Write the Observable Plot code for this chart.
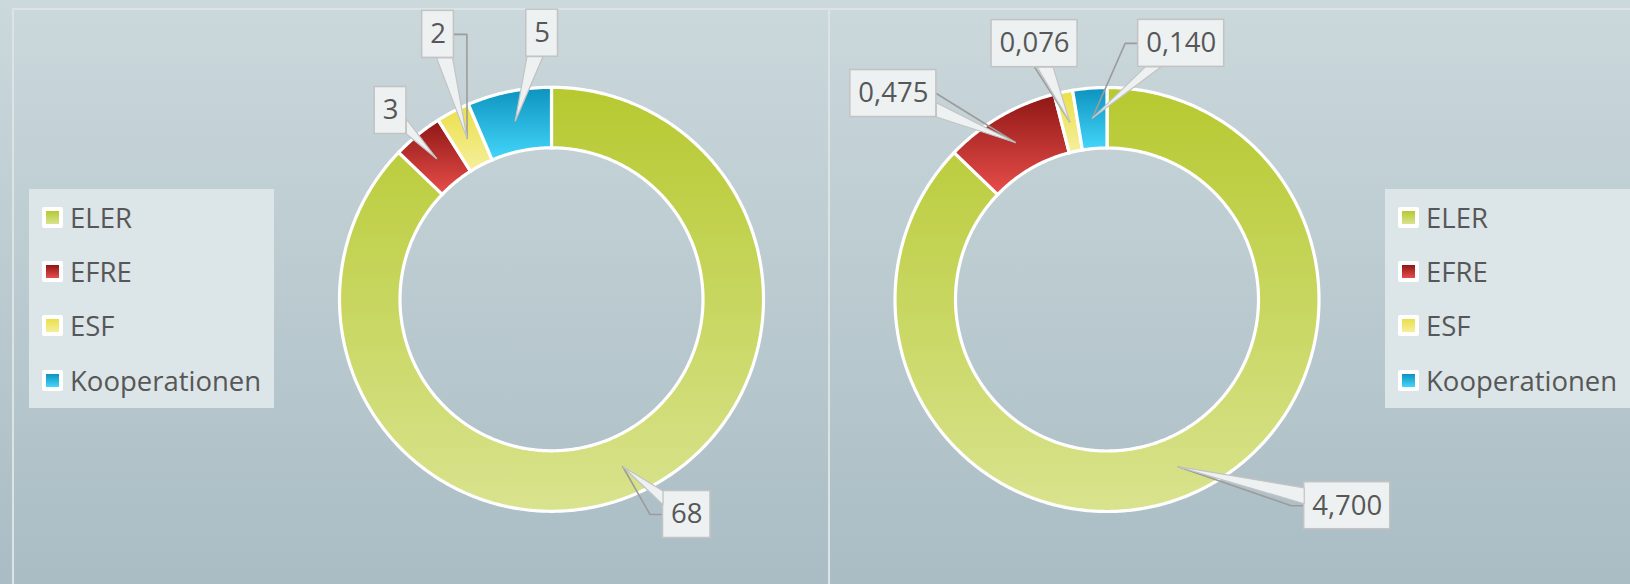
<!DOCTYPE html>
<html>
<head>
<meta charset="utf-8">
<script src="https://cdn.jsdelivr.net/npm/d3@7"></script>
<script src="https://cdn.jsdelivr.net/npm/@observablehq/plot@0.6"></script>
<style>
  html, body { margin: 0; padding: 0; }
  #wrap { position: relative; width: 1630px; height: 584px; overflow: hidden;
          background: linear-gradient(#cbd8dc, #aabdc4); font-family: "Open Sans", sans-serif; }
  .panel { position: absolute; border-left: 2px solid #dde2e4; border-top: 2px solid #dde2e4; box-sizing: border-box; }
  #chart { position: absolute; left: 0; top: 0; }
  .legend { position: absolute; background: #dce5e8; box-sizing: border-box; padding-top: 1px; }
  .item { height: 54.3px; display: flex; align-items: center; color: #575757; font-size: 27.5px; white-space: nowrap; }
  .sw { width: 13px; height: 13px; border: 4px solid #fff; border-radius: 2px; margin-left: 13px; margin-right: 7px; flex: none; }
</style>
</head>
<body>
<div id="wrap">
  <div class="panel" style="left:12px; top:8px; width:818px; height:600px;"></div>
  <div class="panel" style="left:828px; top:8px; width:820px; height:600px;"></div>
</div>
<script>
// ---------------- data ----------------
const categories = ["ELER", "EFRE", "ESF", "Kooperationen"];
const leftValues = [68, 3, 2, 5];
const rightValues = [4.700, 0.475, 0.076, 0.140];
const colorTop = ["#b6c930", "#8e1715", "#ebdf48", "#0c93bf"];
const colorBottom = ["#d9e38e", "#e84e4a", "#f5ef9e", "#44d6fa"];

// ---------------- layout ----------------
const W = 1630, H = 584;
const k = 212;                 // px per unit radius
const outerR = 1, innerR = 151.5 / 212;
const centerPx = [[551, 298.8], [1106.5, 299]];
const legendPos = [{left: 29, top: 189, width: 245, height: 219}, {left: 1385, top: 189, width: 260, height: 219}];
const fontSize = 27.5;
// callout box offsets (px, relative to anchor in slice) and leader style
const calloutLeft = [
  {off: [64, 48], leader: "elbow"},
  {off: [-46, -48], leader: "corner"},
  {off: [-29, -104], leader: "elbow"},
  {off: [27, -88], leader: "bottom"}
];
const calloutRight = [
  {off: [169, 39], leader: "elbow"},
  {off: [-122, -49], leader: "side"},
  {off: [-35, -78], leader: "bottom"},
  {off: [89, -75], leader: "elbow"}
];

const de = d3.formatLocale({decimal: ",", thousands: ".", grouping: [3], currency: ["", " €"]});
const formats = [de.format("d"), de.format(".3f")];
const charts = [leftValues, rightValues];
const callouts = [calloutLeft, calloutRight];

// scale domains (data units: radius 1 == k px)
const x0 = -centerPx[0][0] / k, x1 = (W - centerPx[0][0]) / k;
const yTop = centerPx[0][1] / k, yBot = -(H - centerPx[0][1]) / k;
const centers = centerPx.map(([px, py]) => [(px - centerPx[0][0]) / k, (centerPx[0][1] - py) / k]);

// text measure
const ctx = document.createElement("canvas").getContext("2d");
ctx.font = fontSize + "px 'Open Sans'";
const measure = (s) => ctx.measureText(s).width;

const slices = [];
const labels = [];
const leaders = [];
const tails = [];
charts.forEach((vals, c) => {
  const total = d3.sum(vals);
  const [cx, cy] = centers[c];
  let a0 = 0;
  vals.forEach((v, i) => {
    const a1 = a0 + v / total * 2 * Math.PI;
    const n = Math.max(2, Math.ceil((a1 - a0) / (Math.PI / 360)));
    const pts = [];
    for (let j = 0; j <= n; j++) { const a = a0 + (a1 - a0) * j / n; pts.push([cx + outerR * Math.sin(a), cy + outerR * Math.cos(a)]); }
    for (let j = n; j >= 0; j--) { const a = a0 + (a1 - a0) * j / n; pts.push([cx + innerR * Math.sin(a), cy + innerR * Math.cos(a)]); }
    pts.push(pts[0]);
    pts.forEach(([x, y]) => slices.push({chart: c, cat: i, x, y}));

    // callout
    const am = (a0 + a1) / 2, rm = (outerR + innerR) / 2;
    const ax = cx + rm * Math.sin(am), ay = cy + rm * Math.cos(am);
    const text = formats[c](v);
    const co = callouts[c][i];
    const bx = ax + co.off[0] / k, by = ay - co.off[1] / k;
    const hw = (measure(text) + 16) / 2 / k, hh = 23.5 / k;
    const key = c + "-" + i;
    labels.push({key, text, x: bx, y: by, x1: bx - hw, x2: bx + hw, y1: by - hh, y2: by + hh});
    // leader line
    const sideX = ax < bx ? bx - hw : bx + hw;
    const dir = ax < bx ? -1 : 1;
    let lp;
    if (co.leader === "elbow") lp = [[ax, ay], [sideX + dir * 13 / k, by], [sideX, by]];
    else if (co.leader === "bottom") lp = [[ax, ay], [bx, by - hh]];
    else if (co.leader === "corner") lp = [[ax, ay], [sideX, by - hh + 8 / k]];
    else lp = [[ax, ay], [sideX, by]];
    lp.forEach(([x, y]) => leaders.push({key, x, y}));
    // tail triangle
    const dx = ax - bx, dy = ay - by;
    const tx = Math.abs(dx) > 1e-9 ? hw / Math.abs(dx) : Infinity;
    const ty = Math.abs(dy) > 1e-9 ? hh / Math.abs(dy) : Infinity;
    const t = Math.min(tx, ty);
    const px = bx + t * dx, py = by + t * dy;
    const bw = 8 / k;
    let b1, b2;
    if (tx < ty) {
      const yy1 = Math.min(by + hh, py + bw), yy2 = Math.max(by - hh, py - bw);
      b1 = [px, yy1]; b2 = [px, yy2];
    } else {
      const xx1 = Math.max(bx - hw, px - bw), xx2 = Math.min(bx + hw, px + bw);
      b1 = [xx1, py]; b2 = [xx2, py];
    }
    [b1, [ax, ay], b2, b1].forEach(([x, y]) => tails.push({key, x, y}));
    a0 = a1;
  });
});

const defs = () => {
  const d = d3.create("svg:defs");
  categories.forEach((cat, i) => {
    const g = d.append("linearGradient").attr("id", "grad" + i).attr("x1", 0).attr("y1", 0).attr("x2", 0).attr("y2", 1);
    g.append("stop").attr("offset", "0%").attr("stop-color", colorTop[i]);
    g.append("stop").attr("offset", "100%").attr("stop-color", colorBottom[i]);
  });
  return d.node();
};

const chart = Plot.plot({
  width: W, height: H, margin: 0,
  x: {domain: [x0, x1], axis: null},
  y: {domain: [yBot, yTop], axis: null},
  style: {background: "transparent", overflow: "visible"},
  marks: [
    defs,
    ...categories.map((cat, i) => Plot.line(slices.filter(d => d.cat === i), {
      x: "x", y: "y", z: "chart", fill: `url(#grad${i})`, stroke: "white", strokeWidth: 3.2, strokeLinejoin: "miter", strokeMiterlimit: 4
    })),
    Plot.line(leaders, {x: "x", y: "y", z: "key", stroke: "#9c9c9c", strokeWidth: 1.6, strokeLinejoin: "miter"}),
    Plot.rect(labels, {x1: "x1", x2: "x2", y1: "y1", y2: "y2", fill: "#edf1f2", stroke: "#c3c3c3", strokeWidth: 1.5}),
    Plot.line(tails, {x: "x", y: "y", z: "key", fill: "#edf1f2", stroke: "#c3c3c3", strokeWidth: 1.2, strokeLinejoin: "miter"}),
    Plot.text(labels, {x: "x", y: "y", text: "text", fontSize: fontSize, fontFamily: "Open Sans", fill: "#575757"})
  ]
});
chart.id = "chart";
const wrap = document.getElementById("wrap");
wrap.appendChild(chart);

// legends
legendPos.forEach((pos) => {
  const lg = d3.select(wrap).append("div").attr("class", "legend")
    .style("left", pos.left + "px").style("top", pos.top + "px")
    .style("width", pos.width + "px").style("height", pos.height + "px");
  categories.forEach((cat, i) => {
    const it = lg.append("div").attr("class", "item");
    it.append("div").attr("class", "sw").style("background", `linear-gradient(${colorTop[i]}, ${colorBottom[i]})`);
    it.append("span").text(cat);
  });
});
</script>
</body>
</html>
